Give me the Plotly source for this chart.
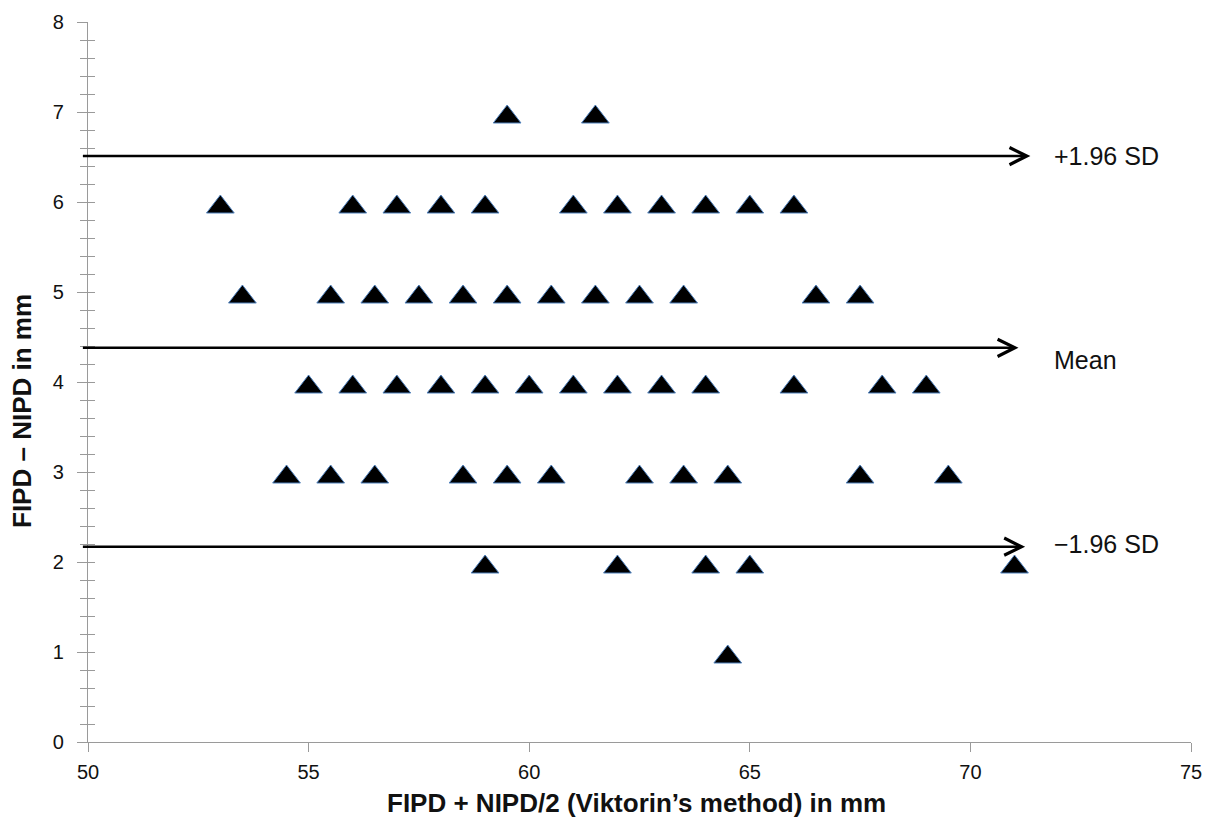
import plotly.graph_objects as go

# ---- data ----
row7_x = [59.5, 61.5]
row6_x = [53, 56, 57, 58, 59, 61, 62, 63, 64, 65, 66]
row5_x = [53.5, 55.5, 56.5, 57.5, 58.5, 59.5, 60.5, 61.5, 62.5, 63.5, 66.5, 67.5]
row4_x = [55, 56, 57, 58, 59, 60, 61, 62, 63, 64, 66, 68, 69]
row3_x = [54.5, 55.5, 56.5, 58.5, 59.5, 60.5, 62.5, 63.5, 64.5, 67.5, 69.5]
row2_x = [59, 62, 64, 65, 71]
row1_x = [64.5]

rows = {7: row7_x, 6: row6_x, 5: row5_x, 4: row4_x, 3: row3_x, 2: row2_x, 1: row1_x}
avg_x = []
diff_y = []
for yv, xs in rows.items():
    for xv in xs:
        avg_x.append(xv)
        diff_y.append(yv)

ref_labels = ["+1.96 SD", "Mean", "\u22121.96 SD"]
ref_values = [6.51, 4.38, 2.17]
arrow_end_x = [71.36, 71.09, 71.24]
line_start_x = 49.85
label_x = 71.85
label_yshift = [0, -12, 3]

x_ticks = [50, 55, 60, 65, 70, 75]
y_ticks = [0, 1, 2, 3, 4, 5, 6, 7, 8]

FONT = "Liberation Sans, Arial, sans-serif"
AXIS_GREY = "#9a9a9a"

fig = go.Figure()
fig.add_trace(go.Scatter(
    x=avg_x, y=diff_y, mode="markers",
    marker=dict(symbol="triangle-up", size=24, color="black", standoff=5,
                line=dict(color="#4f81bd", width=1)),
    showlegend=False, hoverinfo="x+y",
))
# invisible trace to anchor the overlay axis that draws the inner half of the ticks
fig.add_trace(go.Scatter(x=[None], y=[None], yaxis="y2", showlegend=False, hoverinfo="skip"))

annotations = []
for lab, val, xe, ys in zip(ref_labels, ref_values, arrow_end_x, label_yshift):
    annotations.append(dict(
        x=xe, y=val, xref="x", yref="y", ax=line_start_x, ay=val, axref="x", ayref="y",
        showarrow=True, arrowhead=5, arrowsize=1.35, arrowwidth=2.5, arrowcolor="black",
        text="", standoff=0,
    ))
    annotations.append(dict(
        x=label_x, y=val, xref="x", yref="y", text=lab, showarrow=False,
        xanchor="left", yanchor="middle", yshift=ys,
        font=dict(family=FONT, size=25, color="#111111"),
    ))

# page is offset 8px by body margin: figure origin at (8, 8)
PW, PH = 1202, 821
ML, MR, MT, MB = 80, 19, 14, 87
plot_w = PW - ML - MR
plot_h = PH - MT - MB

def px_to_paper_x(px):
    return (px - 8 - ML) / plot_w

def px_to_paper_y(py):
    return (PH - MB - (py - 8)) / plot_h

annotations.append(dict(
    x=px_to_paper_x(636), y=px_to_paper_y(803), xref="paper", yref="paper",
    text="<b>FIPD + NIPD/2 (Viktorin\u2019s method) in mm</b>", showarrow=False,
    xanchor="center", yanchor="middle", font=dict(family=FONT, size=26, color="#111111"),
))
annotations.append(dict(
    x=px_to_paper_x(22), y=px_to_paper_y(411), xref="paper", yref="paper", textangle=-90,
    text="<b>FIPD \u2013 NIPD in mm</b>", showarrow=False,
    xanchor="center", yanchor="middle", font=dict(family=FONT, size=26, color="#111111"),
))

fig.update_layout(
    width=PW, height=PH,
    margin=dict(l=ML, r=MR, t=MT, b=MB, autoexpand=False),
    paper_bgcolor="white", plot_bgcolor="white",
    font=dict(family=FONT, size=20, color="#111111"),
    xaxis=dict(
        range=[50, 75], tickvals=x_ticks, ticktext=[str(v) for v in x_ticks],
        showgrid=False, zeroline=False, showline=True, linecolor=AXIS_GREY, linewidth=1.3,
        ticks="outside", ticklen=9, tickcolor=AXIS_GREY, tickwidth=1.3,
        ticklabelstandoff=3, tickfont=dict(size=20), automargin=False,
    ),
    yaxis=dict(
        range=[0, 8], tickvals=y_ticks, ticktext=[str(v) for v in y_ticks],
        showgrid=False, zeroline=False, showline=True, linecolor=AXIS_GREY, linewidth=1.3,
        ticks="outside", ticklen=10, tickcolor=AXIS_GREY, tickwidth=1.3,
        ticklabelstandoff=9, tickfont=dict(size=20), automargin=False,
        minor=dict(dtick=0.2, ticks="outside", ticklen=7, tickcolor=AXIS_GREY, tickwidth=1.3, showgrid=False),
    ),
    yaxis2=dict(
        range=[0, 8], overlaying="y", anchor="x", side="left",
        tickvals=y_ticks, showticklabels=False, automargin=False,
        showgrid=False, zeroline=False, showline=False,
        ticks="inside", ticklen=7, tickcolor=AXIS_GREY, tickwidth=1.3,
        minor=dict(dtick=0.2, ticks="inside", ticklen=7, tickcolor=AXIS_GREY, tickwidth=1.3, showgrid=False),
    ),
    annotations=annotations,
    showlegend=False,
)

fig.write_html("out.html")
